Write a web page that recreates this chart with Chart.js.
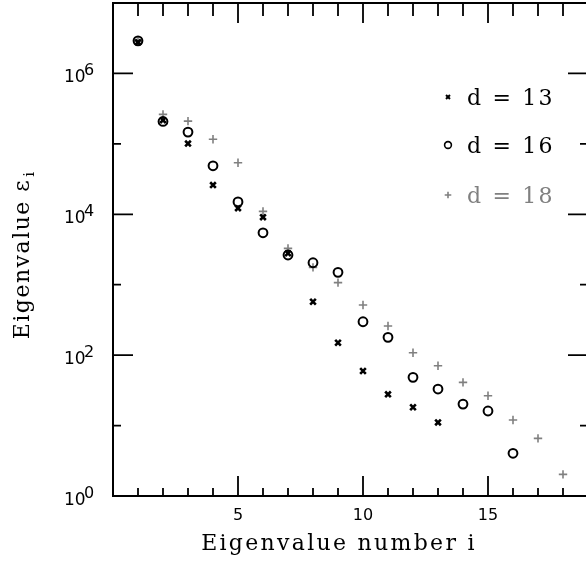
<!DOCTYPE html>
<html>
<head>
<meta charset="utf-8">
<script src="https://cdn.jsdelivr.net/npm/chart.js@4.4.1/dist/chart.umd.min.js"></script>
<style>
  html, body { margin: 0; padding: 0; overflow: hidden; background: #fff; }
  canvas { display: block; }
</style>
</head>
<body>
<canvas id="c" width="600" height="561"></canvas>
<script>
// ── values ─────────────────────────────────────────────────────
const eigenNumber = [1, 2, 3, 4, 5, 6, 7, 8, 9, 10, 11, 12, 13, 14, 15, 16, 17, 18];
const d13 = [2.78e6, 2.17e5, 1.01e5, 2.6e4, 1.22e4, 9.1e3, 2.79e3, 573, 150, 59.5, 27.8, 18.2, 11.1];
const d16 = [2.9e6, 2.08e5, 1.47e5, 4.88e4, 1.5e4, 5.46e3, 2.64e3, 2.05e3, 1.5e3, 298, 179, 48.4, 33.0, 20.2, 16.1, 4.04];
const d18 = [2.85e6, 2.62e5, 2.1e5, 1.16e5, 5.38e4, 1.1e4, 3.28e3, 1.76e3, 1.07e3, 514, 259, 108, 70.7, 41.1, 26.5, 12.0, 6.59, 2.03];
const seriesNames = ['d = 13', 'd = 16', 'd = 18'];

const xTickLabels = ['5', '10', '15'];
const yTickValues = [1, 1e2, 1e4, 1e6];
const yTickExponents = ['0', '2', '4', '6'];
const xTitle = 'Eigenvalue number i';
const yTitle = 'Eigenvalue \u03b5';
const yTitleSub = 'i';

const GRAY = '#808080';
const SERIF = '"DejaVu Serif", serif';
const SANS = '"DejaVu Sans", sans-serif';

const toPoints = (vals) => vals.map((v, k) => ({ x: eigenNumber[k], y: v }));

const styles = [
  { pointStyle: 'crossRot', radius: 4, borderWidth: 2.6, color: '#000' },
  { pointStyle: 'circle', radius: 4.4, borderWidth: 2, color: '#000' },
  { pointStyle: 'cross', radius: 4.2, borderWidth: 1.6, color: GRAY }
];

// inward ticks, frame, labels and in-plot legend
const decorations = {
  id: 'decorations',
  afterDraw(chart) {
    const { ctx, chartArea: a, scales: { x, y } } = chart;
    ctx.save();
    ctx.strokeStyle = '#000';
    ctx.lineWidth = 2;
    ctx.strokeRect(a.left, a.top, a.right - a.left, a.bottom - a.top);

    ctx.lineWidth = 1.8;
    x.ticks.forEach(t => {
      const px = x.getPixelForValue(t.value);
      const major = t.label !== '';
      ctx.beginPath();
      ctx.moveTo(px, a.bottom); ctx.lineTo(px, a.bottom - (major ? 20 : 8));
      ctx.moveTo(px, a.top); ctx.lineTo(px, a.top + (major ? 20 : 13));
      ctx.stroke();
    });
    y.ticks.forEach(t => {
      const py = y.getPixelForValue(t.value);
      const major = Math.round(Math.log10(t.value)) % 2 === 0;
      const len = major ? 20 : 8;
      ctx.beginPath();
      ctx.moveTo(a.left, py); ctx.lineTo(a.left + len, py);
      ctx.moveTo(a.right, py); ctx.lineTo(a.right - len, py);
      ctx.stroke();
    });

    // y tick labels 10^n
    ctx.fillStyle = '#000';
    ctx.textAlign = 'left';
    ctx.textBaseline = 'alphabetic';
    yTickValues.forEach((v, k) => {
      const py = y.getPixelForValue(v);
      ctx.font = '17px ' + SANS;
      ctx.fillText('10', 64, py + 9);
      ctx.font = '16px ' + SANS;
      ctx.fillText(yTickExponents[k], 84, py + 2);
    });

    // axis titles
    ctx.font = '22px ' + SERIF;
    ctx.letterSpacing = '2.3px';
    ctx.textAlign = 'center';
    ctx.fillText(xTitle, 339, 550);

    ctx.save();
    ctx.translate(29, 254);
    ctx.rotate(-Math.PI / 2);
    ctx.letterSpacing = '1.5px';
    ctx.textAlign = 'left';
    const w = ctx.measureText(yTitle).width;
    ctx.fillText(yTitle, -w / 2 - 5, 0);
    ctx.font = '15px ' + SERIF;
    ctx.letterSpacing = '0px';
    ctx.fillText(yTitleSub, w / 2 - 3, 5);
    ctx.restore();

    // legend
    const rows = [97, 145, 195];
    const legendSizes = [2.8, 3.4, 3.3];
    ctx.font = '22px ' + SERIF;
    ctx.letterSpacing = '2.2px';
    ctx.textAlign = 'left';
    seriesNames.forEach((name, k) => {
      const st = styles[k];
      ctx.strokeStyle = st.color;
      ctx.fillStyle = 'rgba(0,0,0,0)';
      ctx.lineWidth = k === 0 ? 2 : 1.6;
      Chart.helpers.drawPoint(ctx, { pointStyle: st.pointStyle, radius: legendSizes[k], rotation: 0, borderWidth: ctx.lineWidth }, 448, rows[k]);
      ctx.fillStyle = st.color;
      ctx.fillText(name, 467, rows[k] + 8);
    });
    ctx.restore();
  }
};

const datasets = [d13, d16, d18].map((vals, k) => ({
  label: seriesNames[k],
  data: toPoints(vals),
  pointStyle: styles[k].pointStyle,
  pointRadius: styles[k].radius,
  pointBorderWidth: styles[k].borderWidth,
  borderColor: styles[k].color,
  backgroundColor: 'rgba(0,0,0,0)',
  showLine: false
}));

new Chart(document.getElementById('c'), {
  type: 'scatter',
  data: { datasets },
  options: {
    responsive: false,
    animation: false,
    events: [],
    layout: { autoPadding: false, padding: { top: 3, right: 12, left: 0, bottom: 0 } },
    plugins: { legend: { display: false }, tooltip: { enabled: false } },
    scales: {
      x: {
        type: 'linear',
        min: 0,
        max: 19,
        grid: { display: false, drawTicks: false },
        border: { display: false },
        afterBuildTicks: (s) => { s.ticks = eigenNumber.map(v => ({ value: v })); },
        afterFit: (s) => { s.height = 65; },
        ticks: {
          autoSkip: false,
          maxRotation: 0,
          padding: 10,
          color: '#000',
          font: { family: SANS, size: 16 },
          callback: (v) => xTickLabels.includes(String(v)) ? String(v) : ''
        }
      },
      y: {
        type: 'logarithmic',
        min: 1,
        max: 1e7,
        grid: { display: false, drawTicks: false },
        border: { display: false },
        afterBuildTicks: (s) => { s.ticks = [1, 10, 1e2, 1e3, 1e4, 1e5, 1e6].map(v => ({ value: v })); },
        afterFit: (s) => { s.width = 113; s.paddingTop = 0; s.paddingBottom = 0; },
        ticks: { display: false }
      }
    }
  },
  plugins: [decorations]
});
</script>
</body>
</html>
